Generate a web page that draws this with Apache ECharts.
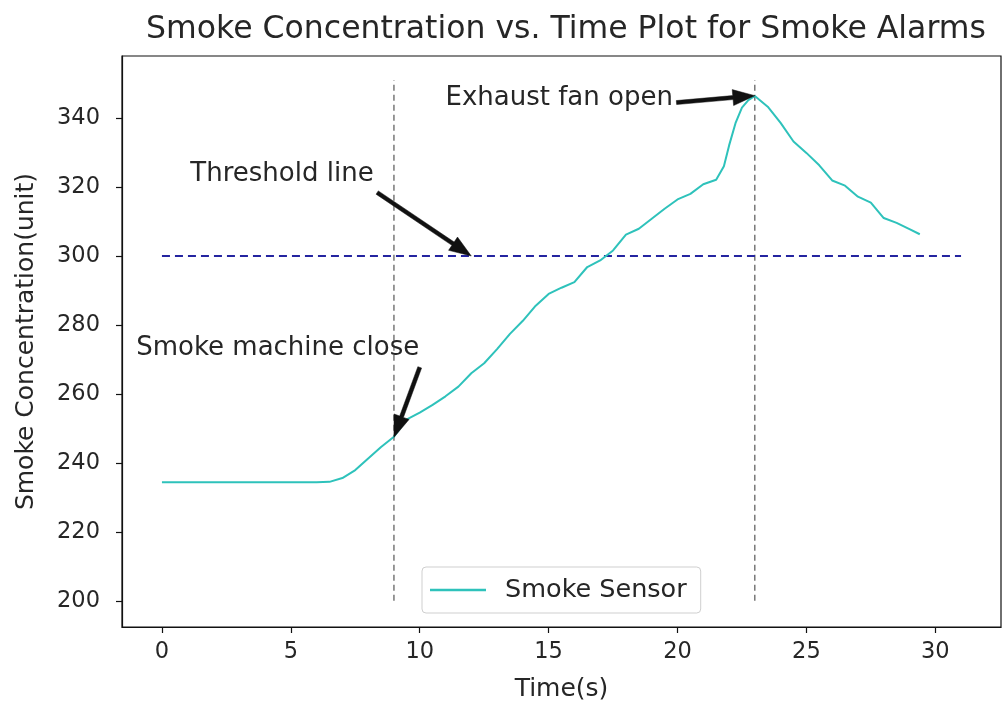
<!DOCTYPE html>
<html>
<head>
<meta charset="utf-8">
<script src="https://cdn.jsdelivr.net/npm/echarts@6/dist/echarts.min.js"></script>
<style>
html,body{margin:0;padding:0;background:#fff;}
#chart{width:1002px;height:707px;}
</style>
</head>
<body>
<div id="chart"></div>
<script>
// ---- data ----
const timeS = [0,0.5,1,1.5,2,2.5,3,3.5,4,4.5,5,5.5,6,6.5,7,7.5,8,8.5,9,9.5,10,10.5,11,11.5,12,12.5,13,13.5,14,14.5,15,15.5,16,16.5,17,17.5,18,18.5,19,19.5,20,20.5,21,21.5,21.8,22,22.25,22.5,22.75,23,23.5,24,24.5,25,25.5,26,26.5,27,27.5,28,28.5,29,29.4];
const smoke = [234.4,234.4,234.4,234.4,234.4,234.4,234.4,234.4,234.4,234.4,234.4,234.4,234.4,234.5,235.6,237.9,241.3,244.6,247.6,252.6,254.6,256.8,259.3,262.1,266.0,268.9,273.0,277.4,281.2,285.6,289.0,290.8,292.4,296.8,298.7,301.6,306.2,307.9,310.8,313.7,316.4,318.0,320.8,322.1,326.0,332.0,338.5,343.0,345.2,346.4,343.3,338.6,333.2,329.9,326.3,321.9,320.4,317.2,315.5,311.0,309.6,307.8,306.3];
const xTicks = [0,5,10,15,20,25,30];
const yTicks = [200,220,240,260,280,300,320,340];
const thresholdValue = 300;
const thresholdSpan = [0,31];
const eventTimes = [9,23];
const eventSpan = [200,351];
const annotTexts = ['Threshold line','Smoke machine close','Exhaust fan open'];
const annotTextAt = [[1.1,323.6],[-1.0,273.2],[11.0,345.7]];
const annotTail = [[8.35,318.4],[10.0,267.7],[19.96,344.5]];
const annotTip = [[12,300],[9,247.4],[23,346.5]];

const FONT = 'DejaVu Sans';
const TXT = '#262626';
const LINE_COLOR = '#2ec2bb';

const chart = echarts.init(document.getElementById('chart'));

const series = [
  {
    name:'Smoke Sensor', type:'line', symbol:'none', smooth:false,
    data: timeS.map((t,i)=>[t,smoke[i]]),
    lineStyle:{color:LINE_COLOR,width:2}, itemStyle:{color:LINE_COLOR}, z:5
  },
  {
    name:'Threshold', type:'line', symbol:'none',
    data: thresholdSpan.map(x=>[x,thresholdValue]),
    lineStyle:{color:'#2424a0',width:2,type:[8,5]}, z:4
  }
];
eventTimes.forEach((t,k)=>{
  series.push({
    name:'event'+k, type:'line', symbol:'none',
    data: eventSpan.map(y=>[t,y]),
    lineStyle:{color:'#555',width:1.2,type:[6,4]}, z:3
  });
});

const option = {
  animation:false,
  backgroundColor:'#fff',
  textStyle:{fontFamily:FONT},
  title:{
    text:'Smoke Concentration vs. Time Plot for Smoke Alarms',
    left:561, top:9, textAlign:'center',
    textStyle:{fontFamily:FONT,fontSize:31.5,fontWeight:'normal',color:TXT}
  },
  grid:{left:122,right:1,top:56,bottom:80,show:true,borderColor:'#111',borderWidth:1.2,containLabel:false},
  legend:{
    data:[{name:'Smoke Sensor',icon:'rect'}],
    left:422, top:567,
    padding:[10,14,10,8],
    itemWidth:56, itemHeight:2.5,
    itemStyle:{color:LINE_COLOR},
    borderColor:'#cfcfcf', borderWidth:1, borderRadius:4,
    backgroundColor:'rgba(255,255,255,0.8)',
    textStyle:{fontFamily:FONT,fontSize:25.5,color:TXT,padding:[0,0,0,14]}
  },
  xAxis:{
    type:'value', min:-1.55, max:32.55,
    name:'Time(s)', nameLocation:'middle', nameGap:50,
    nameTextStyle:{fontFamily:FONT,fontSize:25,color:TXT},
    axisLine:{show:true,onZero:false,lineStyle:{color:'#111',width:1.2}},
    axisTick:{show:true,inside:false,length:6,lineStyle:{color:'#111',width:1.2},customValues:xTicks},
    axisLabel:{fontFamily:FONT,fontSize:22.5,color:TXT,margin:14,customValues:xTicks},
    splitLine:{show:false}
  },
  yAxis:{
    type:'value', min:192.4, max:358,
    name:'Smoke Concentration(unit)', nameLocation:'middle', nameGap:83,
    nameTextStyle:{fontFamily:FONT,fontSize:25,color:TXT},
    axisLine:{show:true,onZero:false,lineStyle:{color:'#111',width:1.2}},
    axisTick:{show:true,inside:false,length:6,lineStyle:{color:'#111',width:1.2},customValues:yTicks},
    axisLabel:{fontFamily:FONT,fontSize:22.5,color:TXT,margin:22,customValues:yTicks},
    splitLine:{show:false}
  },
  series: series
};
chart.setOption(option);

function buildAnnotations(){
  const els = [];
  const toPx = p => chart.convertToPixel({gridIndex:0}, p);
  annotTexts.forEach((txt,i)=>{
    const tp = toPx(annotTextAt[i]);
    els.push({
      type:'text', x:tp[0], y:tp[1], z:20,
      style:{text:txt, fill:TXT, font:'26px "'+FONT+'"', align:'left', verticalAlign:'middle'}
    });
    const T = toPx(annotTail[i]);
    const P = toPx(annotTip[i]);
    const dx = P[0]-T[0], dy = P[1]-T[1];
    const L = Math.sqrt(dx*dx+dy*dy);
    const ux = dx/L, uy = dy/L;
    const nx = -uy, ny = ux;
    const w = 2, hl = 22, hw = 8;
    const B = [P[0]-ux*hl, P[1]-uy*hl];
    const pts = [
      [T[0]+nx*w, T[1]+ny*w],
      [B[0]+nx*w, B[1]+ny*w],
      [B[0]+nx*hw, B[1]+ny*hw],
      [P[0], P[1]],
      [B[0]-nx*hw, B[1]-ny*hw],
      [B[0]-nx*w, B[1]-ny*w],
      [T[0]-nx*w, T[1]-ny*w]
    ];
    els.push({type:'polygon', z:21, shape:{points:pts}, style:{fill:'#111', stroke:'#111', lineWidth:0.5}});
  });
  chart.setOption({graphic:{elements:els}});
}
buildAnnotations();
</script>
</body>
</html>
